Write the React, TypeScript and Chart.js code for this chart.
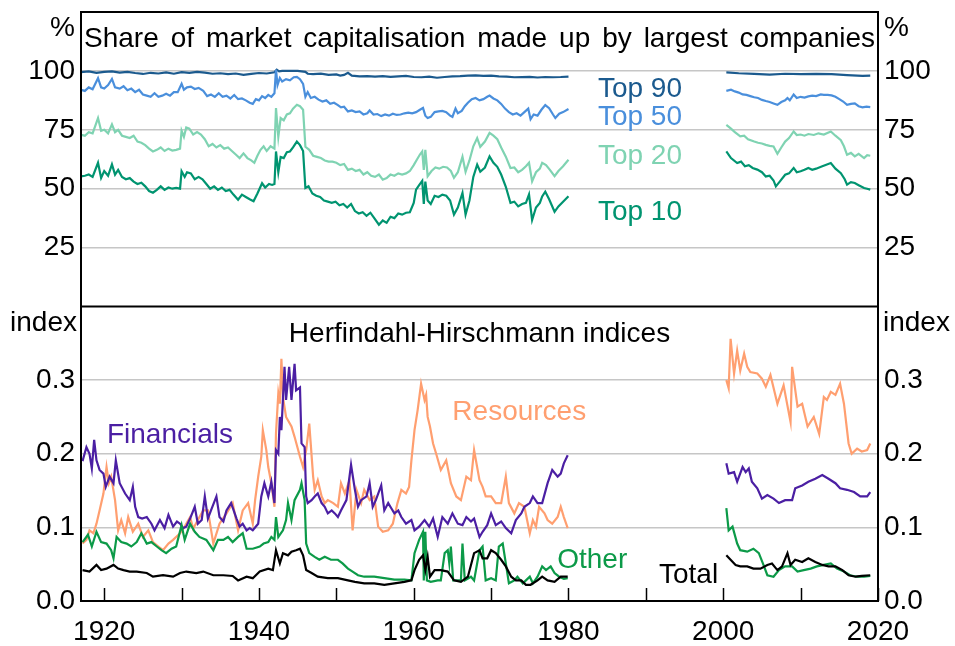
import React, { useEffect, useRef } from 'react';
import { Chart, registerables } from 'chart.js';

Chart.register(...registerables);

const FONT = '"Liberation Sans", Arial, sans-serif';
const FONT_SIZE = 28;

const X_MIN = 1917;
const X_MAX = 2020;
const GAP_YEAR = 1990;
const xTickYears = [1920, 1930, 1940, 1950, 1960, 1970, 1980, 1990, 2000, 2010, 2020];
const xLabelYears = [1920, 1940, 1960, 1980, 2000, 2020];
const shareTicks = [25, 50, 75, 100];
const hhiTicks = [0, 0.1, 0.2, 0.3];

const COLORS = {
  top90: '#1b5a8e',
  top50: '#4a8fdc',
  top20: '#7fd3b2',
  top10: '#009470',
  financials: '#4b1fa3',
  resources: '#ff9f70',
  other: '#0c9a48',
  total: '#000000',
  grid: '#c6c6c6',
};

// ---------- Top panel: share of market capitalisation (%) ----------
const top90Early = [
  [1917, 99.5], [1918, 99.8], [1919, 99.2], [1920, 99.6], [1921, 99.8], [1922, 99.3], [1923, 99.6], [1924, 99.1],
  [1925, 98.7], [1926, 99.2], [1927, 98.9], [1928, 99.4], [1929, 98.8], [1930, 99.5], [1931, 99.2], [1932, 99.6],
  [1933, 99.3], [1934, 98.8], [1935, 99.0], [1936, 98.6], [1937, 98.9], [1938, 98.3], [1939, 98.7], [1940, 99.1],
  [1941, 98.9], [1942, 99.4], [1942.3, 100.5], [1942.6, 99.8], [1943, 100], [1944, 100], [1945, 100], [1946, 99.6],
  [1946.3, 98.8], [1947, 98.6], [1948, 98.8], [1949, 98.3], [1950, 98.5], [1950.5, 98.0], [1951, 98.3], [1951.5, 99.2],
  [1952, 98.0], [1953, 97.7], [1954, 97.8], [1955, 97.6], [1956, 97.8], [1957, 97.5], [1958, 97.7], [1959, 97.9],
  [1960, 97.4], [1961, 97.3], [1962, 97.6], [1963, 97.1], [1964, 97.4], [1965, 97.7], [1966, 97.8], [1967, 98.0],
  [1968, 98.1], [1969, 97.9], [1970, 98.0], [1971, 97.7], [1972, 97.6], [1973, 97.3], [1974, 97.4], [1975, 97.5],
  [1976, 97.2], [1977, 97.4], [1978, 97.3], [1979, 97.4], [1980, 97.6],
];
const top90Late = [
  [2000.4, 99.4], [2002, 99.0], [2004, 98.7], [2006, 98.4], [2008, 98.8], [2010, 98.6], [2012, 98.7], [2014, 98.6],
  [2016, 98.2], [2018, 97.9], [2019, 98.0],
];

const top50Early = [
  [1917, 92], [1917.5, 91.5], [1918, 93], [1918.5, 92.2], [1919.2, 96.9], [1919.6, 93], [1920, 92.5], [1920.5, 94],
  [1921, 96.6], [1921.4, 93], [1922, 92.5], [1922.5, 93.5], [1923, 91.8], [1923.5, 92.5], [1924, 91], [1924.5, 92],
  [1925, 90], [1925.5, 89.5], [1926, 89], [1926.5, 90.5], [1927, 89], [1927.5, 89.5], [1928, 90.3], [1928.5, 89.5],
  [1929, 91], [1929.5, 91], [1930, 94.5], [1930.3, 92], [1930.7, 93], [1931.2, 93.3], [1931.7, 92.3], [1932.2, 92.8],
  [1932.8, 91.5], [1933.3, 89.3], [1933.8, 90], [1934.3, 89], [1934.8, 90.5], [1935.3, 89], [1935.8, 89.5],
  [1936.3, 88.3], [1936.8, 89.8], [1937.3, 88], [1937.8, 88.3], [1938.3, 87.5], [1938.8, 86.5], [1939.2, 86],
  [1939.6, 88], [1940, 87.5], [1940.4, 89.3], [1940.8, 88.5], [1941.2, 89.8], [1941.6, 89], [1942, 90.5],
  [1942.2, 100.5], [1942.4, 94], [1942.7, 97], [1943, 95.5], [1943.5, 96.5], [1944, 96], [1944.5, 97.3],
  [1944.9, 97.5], [1945.3, 96.5], [1945.7, 94.5], [1946, 89], [1946.3, 91], [1946.7, 88.5], [1947.2, 89],
  [1947.7, 87.8], [1948.2, 87], [1948.7, 87.5], [1949.2, 86], [1949.7, 86.5], [1950.2, 85.5], [1950.6, 84.5],
  [1951, 84.8], [1951.5, 82.8], [1952, 83.2], [1952.5, 82.5], [1953, 82.8], [1953.5, 81.5], [1954, 82],
  [1954.3, 83.2], [1954.8, 81.5], [1955.3, 81.7], [1955.8, 80.8], [1956.3, 81.5], [1956.8, 81], [1957.3, 81.8],
  [1957.8, 81.3], [1958.3, 81.5], [1958.8, 82], [1959.3, 82.3], [1959.8, 82], [1960.3, 82.5], [1960.8, 83.5],
  [1961.2, 84.3], [1961.5, 81], [1961.8, 80], [1962.2, 80.5], [1962.7, 82.5], [1963.2, 82.8], [1963.7, 83],
  [1964.2, 82.5], [1964.7, 81], [1965, 80.5], [1965.4, 84], [1965.7, 82], [1966.2, 83], [1966.6, 85], [1967, 86.5],
  [1967.5, 88], [1968, 88.5], [1968.5, 87.5], [1969, 88], [1969.5, 89], [1969.8, 89.5], [1970.3, 88.3],
  [1970.8, 87.5], [1971.3, 86], [1971.8, 84], [1972.3, 82.5], [1972.8, 81.5], [1973.3, 82], [1973.8, 81],
  [1974.3, 82.5], [1974.8, 84], [1975.1, 79.5], [1975.5, 81.5], [1976, 81], [1976.5, 83.5], [1977, 85.5],
  [1977.5, 84.2], [1978, 81.5], [1978.3, 80], [1978.8, 81.8], [1979.3, 82.5], [1980, 83.8],
];
const top50Late = [
  [2000.4, 91.5], [2001, 92], [2001.5, 91.3], [2002, 90.8], [2002.5, 90], [2003, 89.8], [2003.5, 89.3], [2004, 88.8],
  [2004.5, 88.5], [2005, 87.7], [2005.5, 87.2], [2006, 86.8], [2006.5, 86.2], [2007, 85.6], [2007.5, 86.8],
  [2008, 87.5], [2008.3, 88.5], [2008.6, 87.5], [2009.1, 90], [2009.5, 88.5], [2010, 89], [2010.5, 88.7],
  [2011, 89.2], [2011.5, 89.5], [2012, 89.3], [2012.6, 90], [2013, 89.8], [2013.5, 89.8], [2014, 89.6],
  [2014.5, 89], [2015, 88], [2015.5, 87], [2016, 85.6], [2016.5, 86], [2017, 86.2], [2017.5, 85], [2018, 84.5],
  [2018.5, 84.8], [2019, 84.6],
];

const top20Early = [
  [1917, 72.9], [1917.5, 72.5], [1918, 74], [1918.5, 73.5], [1919.2, 80], [1919.6, 74.6], [1920, 75], [1920.5, 73.5],
  [1921, 77.3], [1921.4, 74], [1921.8, 75], [1922.3, 72.5], [1922.8, 72], [1923.3, 71.5], [1923.8, 72.5],
  [1924.3, 70], [1924.8, 69.5], [1925.3, 68.5], [1925.8, 67], [1926.3, 65.8], [1926.8, 66.5], [1927.3, 67.5],
  [1927.8, 66], [1928.3, 67], [1928.8, 66.2], [1929.3, 66.5], [1929.8, 67], [1930, 74.6], [1930.3, 72],
  [1930.6, 76], [1931, 75.5], [1931.5, 73], [1932, 74], [1932.5, 73], [1933, 71], [1933.5, 68], [1934, 69],
  [1934.5, 67.5], [1935, 68.5], [1935.5, 67], [1936, 67.5], [1936.5, 66], [1937, 64.5], [1937.5, 63], [1938, 65],
  [1938.5, 63], [1939, 62], [1939.4, 61], [1939.8, 64], [1940.2, 66.5], [1940.6, 68], [1941, 66], [1941.5, 68],
  [1942, 67], [1942.2, 84.2], [1942.5, 72], [1942.8, 80], [1943.2, 79], [1943.6, 81.5], [1944, 82], [1944.4, 84],
  [1944.9, 85.6], [1945.3, 85], [1945.7, 83.5], [1946, 67.8], [1946.5, 66.5], [1947, 64], [1947.5, 63.5],
  [1948, 63], [1948.5, 62], [1949, 61.5], [1949.5, 61.5], [1950, 61], [1950.5, 60], [1951, 60.5], [1951.5, 58],
  [1952, 58.5], [1952.5, 57.5], [1953, 58], [1953.5, 56], [1954, 57], [1954.5, 55.5], [1955, 55], [1955.5, 56],
  [1956, 53.8], [1956.5, 54.5], [1957, 56], [1957.5, 55.5], [1958, 56.5], [1958.5, 56], [1959, 56.5],
  [1959.5, 57.5], [1960, 60], [1960.4, 62.3], [1960.8, 64.5], [1961.1, 65.8], [1961.3, 58], [1961.5, 66.5],
  [1961.8, 55.3], [1962.3, 57.5], [1962.8, 59], [1963.3, 58.5], [1963.8, 59.3], [1964.3, 59], [1964.8, 57.5],
  [1965.2, 54.6], [1965.7, 57], [1966.3, 63.6], [1966.7, 57.2], [1967.2, 62], [1967.7, 68], [1968.2, 71.5],
  [1968.6, 67.8], [1969.2, 70], [1969.8, 73.7], [1970.3, 72.5], [1970.8, 71], [1971.3, 67.5], [1971.9, 63.6],
  [1972.5, 58.8], [1973, 59], [1973.5, 57], [1974, 58], [1974.5, 59.5], [1974.9, 61], [1975.3, 53.1],
  [1975.8, 57], [1976.3, 58.5], [1976.6, 61], [1977.1, 60], [1977.6, 58], [1978.2, 55.3], [1978.7, 57.5],
  [1979.3, 59.5], [1980, 62.3],
];
const top20Late = [
  [2000.4, 77.1], [2001, 75.5], [2001.5, 74], [2002.2, 72.2], [2002.7, 72.5], [2003.2, 71], [2004, 70],
  [2004.5, 69.5], [2005, 69.2], [2005.5, 68.6], [2006, 68.2], [2006.5, 67.9], [2007, 64.8], [2007.5, 67.5],
  [2008, 70], [2008.5, 71.5], [2009.1, 74.3], [2009.5, 72.8], [2010, 73], [2010.5, 72.5], [2011, 73.2],
  [2011.7, 72.8], [2012.3, 73.5], [2013, 73], [2013.9, 74.3], [2014.5, 72.5], [2015.2, 70.6], [2015.6, 68],
  [2016, 64.4], [2016.5, 65.2], [2017, 63.7], [2017.5, 64.8], [2018.2, 63], [2018.6, 64.2], [2019, 64],
];

const top10Early = [
  [1917, 55.2], [1917.5, 55.5], [1918, 56], [1918.5, 55], [1919.2, 61], [1919.6, 54.6], [1920, 57.5], [1920.5, 55.5],
  [1921, 60.3], [1921.4, 56], [1921.8, 58], [1922.3, 55], [1922.8, 54], [1923.3, 54.5], [1923.8, 53], [1924.3, 52],
  [1924.8, 52.5], [1925.3, 51], [1925.8, 49], [1926.3, 48.3], [1926.8, 49.5], [1927.3, 51], [1927.8, 49.5],
  [1928.3, 50.5], [1928.8, 50], [1929.3, 50.3], [1929.8, 50], [1930, 57.4], [1930.4, 55], [1930.7, 57],
  [1931.2, 56.5], [1931.7, 54], [1932.2, 55], [1932.7, 54], [1933.2, 52], [1933.7, 50], [1934.2, 51],
  [1934.7, 49.5], [1935.2, 50.5], [1935.7, 49], [1936.2, 49.5], [1936.7, 47.5], [1937.3, 45.3], [1937.8, 47.5],
  [1938.3, 46.5], [1938.8, 45.5], [1939.3, 44.7], [1939.8, 48], [1940.4, 52.3], [1940.8, 50.5], [1941.3, 52],
  [1941.7, 51.6], [1942, 52], [1942.2, 65.8], [1942.5, 57], [1942.8, 63.5], [1943.2, 63], [1943.6, 65.5],
  [1944, 65.8], [1944.4, 67.5], [1944.9, 70], [1945.3, 68.5], [1945.7, 66], [1946, 50.3], [1946.4, 51],
  [1946.9, 48], [1947.4, 47], [1947.9, 46.5], [1948.4, 45], [1948.9, 44.5], [1949.4, 44], [1949.9, 44.5],
  [1950.4, 43], [1950.9, 43.5], [1951.4, 42], [1951.9, 43.5], [1952.4, 40.5], [1952.9, 39.5], [1953.4, 40],
  [1953.9, 38.5], [1954.4, 39.8], [1954.9, 37.5], [1955.5, 34.7], [1956, 36.5], [1956.5, 35.5], [1957, 38.1],
  [1957.5, 37.5], [1958, 39.5], [1958.5, 39], [1959, 39.8], [1959.5, 40], [1960, 44], [1960.3, 49.6],
  [1960.7, 51.5], [1961.1, 53.3], [1961.3, 43.5], [1961.5, 53], [1961.8, 45], [1962.2, 43.5], [1962.7, 47],
  [1963.2, 46.5], [1963.7, 47.5], [1964.2, 47], [1964.7, 45], [1965.2, 39], [1965.7, 42], [1966.3, 48.2],
  [1966.7, 39], [1967.2, 45], [1967.7, 55], [1968.2, 60.2], [1968.6, 57.2], [1969.2, 59], [1969.8, 63.7],
  [1970.3, 61], [1970.8, 59.3], [1971.3, 56], [1971.9, 50.8], [1972.5, 44], [1973, 44.5], [1973.5, 42.5],
  [1974, 43.5], [1974.5, 44], [1974.9, 47.6], [1975.3, 36.7], [1975.8, 42], [1976.3, 44], [1976.6, 46.7],
  [1977, 48.7], [1977.5, 45.5], [1978.2, 40.2], [1978.7, 42.5], [1979.3, 44.5], [1980, 46.8],
];
const top10Late = [
  [2000.4, 65.8], [2001, 63], [2001.8, 60.9], [2002.3, 61.5], [2002.8, 59.5], [2003.3, 60], [2003.8, 58.8],
  [2004.4, 58.1], [2005, 57], [2005.5, 55.2], [2006, 55.5], [2006.5, 53.5], [2006.8, 51], [2007.3, 53],
  [2008, 55.9], [2008.5, 56.5], [2009.1, 58.8], [2009.5, 57], [2010, 57.4], [2010.5, 58], [2011, 58.8],
  [2011.5, 58], [2012, 58.5], [2012.8, 59.5], [2013.4, 60.3], [2013.9, 60.9], [2014.5, 58.5], [2015.2, 56.6],
  [2015.7, 54], [2016, 51.7], [2016.5, 52.8], [2017, 52.4], [2017.5, 51.5], [2018.2, 50.3], [2018.6, 50],
  [2019, 49.6],
];

// ---------- Bottom panel: Herfindahl-Hirschmann indices ----------
const financialsEarly = [
  [1917.2, 0.19], [1917.3, 0.194], [1917.7, 0.209], [1918.1, 0.2], [1918.4, 0.18], [1918.7, 0.219], [1919.0, 0.191],
  [1919.4, 0.178], [1919.9, 0.173], [1920.2, 0.155], [1920.7, 0.169], [1921.2, 0.16], [1921.5, 0.191],
  [1922.0, 0.16], [1922.7, 0.146], [1923.3, 0.137], [1923.7, 0.155], [1924.0, 0.128], [1924.4, 0.114],
  [1924.9, 0.112], [1925.5, 0.114], [1926.1, 0.105], [1926.5, 0.096], [1927.2, 0.11], [1927.8, 0.099],
  [1928.3, 0.117], [1928.9, 0.101], [1929.4, 0.108], [1929.8, 0.105], [1930.2, 0.099], [1930.6, 0.101],
  [1931.1, 0.112], [1931.7, 0.128], [1932.1, 0.105], [1932.6, 0.11], [1933.0, 0.142], [1933.4, 0.112],
  [1933.8, 0.123], [1934.5, 0.142], [1934.9, 0.114], [1935.4, 0.108], [1935.8, 0.123], [1936.4, 0.133],
  [1937.1, 0.112], [1937.5, 0.101], [1937.9, 0.105], [1938.4, 0.096], [1938.8, 0.099], [1939.2, 0.096],
  [1939.9, 0.105], [1940.3, 0.142], [1940.7, 0.16], [1941.2, 0.142], [1941.6, 0.162], [1942.0, 0.133],
  [1942.2, 0.205], [1942.5, 0.2], [1942.7, 0.25], [1942.9, 0.232], [1943.3, 0.318], [1943.5, 0.273],
  [1943.9, 0.318], [1944.2, 0.273], [1944.6, 0.322], [1944.8, 0.286], [1945.3, 0.29], [1945.5, 0.214],
  [1945.9, 0.209], [1946.1, 0.142], [1946.3, 0.133], [1946.8, 0.137], [1947.2, 0.142], [1947.6, 0.146],
  [1948.1, 0.133], [1948.5, 0.128], [1948.9, 0.119], [1949.4, 0.123], [1949.8, 0.119], [1950.2, 0.114],
  [1950.6, 0.123], [1951.3, 0.137], [1951.9, 0.185], [1952.4, 0.151], [1952.8, 0.128], [1953.2, 0.137],
  [1953.9, 0.142], [1954.3, 0.16], [1954.7, 0.128], [1955.1, 0.137], [1955.8, 0.157], [1956.2, 0.123],
  [1956.7, 0.133], [1957.1, 0.126], [1957.5, 0.119], [1958.0, 0.123], [1958.4, 0.114], [1959.0, 0.105],
  [1959.7, 0.11], [1960.1, 0.096], [1960.7, 0.101], [1961.4, 0.11], [1962.0, 0.101], [1962.5, 0.112],
  [1963.1, 0.087], [1963.7, 0.114], [1964.4, 0.105], [1965.0, 0.119], [1965.7, 0.105], [1966.3, 0.103],
  [1966.8, 0.114], [1967.4, 0.108], [1967.8, 0.112], [1968.5, 0.087], [1968.9, 0.094], [1969.5, 0.103],
  [1970.0, 0.119], [1970.6, 0.103], [1971.3, 0.108], [1971.9, 0.099], [1972.6, 0.092], [1973.2, 0.11],
  [1973.9, 0.119], [1974.3, 0.128], [1975.0, 0.133], [1975.4, 0.142], [1976.0, 0.133], [1976.6, 0.133],
  [1977.3, 0.16], [1977.9, 0.178], [1978.6, 0.169], [1979.0, 0.173], [1979.4, 0.187], [1979.9, 0.198],
];
const financialsLate = [
  [2000.4, 0.187], [2000.7, 0.173], [2001.4, 0.175], [2001.8, 0.162], [2002.5, 0.182], [2002.9, 0.175],
  [2003.3, 0.18], [2003.7, 0.162], [2004.4, 0.153], [2005.0, 0.139], [2005.7, 0.144], [2006.5, 0.139],
  [2007.2, 0.133], [2008.0, 0.137], [2008.9, 0.137], [2009.3, 0.153], [2010.2, 0.157], [2011.0, 0.162],
  [2011.9, 0.166], [2012.8, 0.171], [2013.6, 0.166], [2014.5, 0.16], [2015.1, 0.153], [2016.0, 0.151],
  [2016.9, 0.148], [2017.7, 0.142], [2018.6, 0.142], [2019.0, 0.148],
];

const resourcesEarly = [
  [1917.2, 0.078], [1917.7, 0.083], [1918.1, 0.096], [1918.6, 0.092], [1919.0, 0.105], [1919.4, 0.123],
  [1919.9, 0.146], [1920.3, 0.182], [1920.6, 0.16], [1920.9, 0.169], [1921.4, 0.137], [1921.8, 0.096],
  [1922.2, 0.11], [1922.7, 0.092], [1923.1, 0.114], [1923.7, 0.094], [1924.4, 0.105], [1925.0, 0.087],
  [1925.7, 0.096], [1926.3, 0.08], [1927.0, 0.074], [1927.6, 0.069], [1928.3, 0.078], [1928.9, 0.083],
  [1929.8, 0.092], [1930.4, 0.101], [1931.1, 0.114], [1931.5, 0.098], [1932.1, 0.11], [1932.8, 0.123],
  [1933.4, 0.123], [1934.1, 0.078], [1934.9, 0.105], [1935.8, 0.119], [1936.6, 0.133], [1937.3, 0.096],
  [1937.9, 0.123], [1938.6, 0.133], [1939.2, 0.105], [1939.5, 0.137], [1939.9, 0.169], [1940.3, 0.196],
  [1940.5, 0.232], [1940.95, 0.205], [1941.2, 0.182], [1941.6, 0.16], [1942.0, 0.128], [1942.2, 0.228],
  [1942.5, 0.282], [1942.7, 0.268], [1942.9, 0.329], [1943.1, 0.277], [1943.5, 0.25], [1944.2, 0.237],
  [1944.6, 0.223], [1945.3, 0.196], [1945.7, 0.182], [1946.1, 0.205], [1946.5, 0.241], [1947.0, 0.169],
  [1947.2, 0.151], [1947.6, 0.164], [1948.1, 0.142], [1948.5, 0.133], [1948.9, 0.137], [1949.6, 0.133],
  [1950.2, 0.128], [1950.6, 0.16], [1951.1, 0.146], [1951.7, 0.164], [1952.1, 0.096], [1952.6, 0.151],
  [1953.2, 0.133], [1953.6, 0.151], [1954.3, 0.137], [1954.9, 0.142], [1955.4, 0.101], [1956.0, 0.094],
  [1956.7, 0.096], [1957.3, 0.105], [1957.9, 0.133], [1958.4, 0.151], [1959.0, 0.146], [1959.4, 0.155],
  [1959.7, 0.191], [1960.1, 0.232], [1960.5, 0.259], [1960.95, 0.295], [1961.4, 0.273], [1961.6, 0.28],
  [1961.8, 0.25], [1962.1, 0.237], [1962.5, 0.214], [1962.9, 0.2], [1963.5, 0.178], [1964.2, 0.191],
  [1964.8, 0.16], [1965.5, 0.142], [1966.1, 0.137], [1966.8, 0.169], [1967.4, 0.164], [1967.8, 0.205],
  [1968.5, 0.164], [1968.9, 0.155], [1969.3, 0.142], [1970.0, 0.142], [1970.6, 0.133], [1971.3, 0.133],
  [1971.9, 0.169], [1972.3, 0.133], [1973.0, 0.119], [1973.6, 0.133], [1974.3, 0.128], [1975.0, 0.092],
  [1975.4, 0.11], [1975.8, 0.101], [1976.2, 0.128], [1976.9, 0.119], [1977.3, 0.11], [1977.9, 0.105],
  [1978.6, 0.114], [1979.0, 0.128], [1979.4, 0.114], [1979.9, 0.099],
];
const resourcesLate = [
  [2000.4, 0.3], [2000.7, 0.289], [2000.95, 0.356], [2001.4, 0.309], [2001.8, 0.34], [2002.2, 0.313],
  [2002.7, 0.336], [2003.1, 0.318], [2003.5, 0.311], [2004.4, 0.309], [2005.0, 0.302], [2005.5, 0.291],
  [2006.1, 0.307], [2007.0, 0.268], [2007.8, 0.293], [2008.7, 0.243], [2008.9, 0.318], [2009.6, 0.264],
  [2010.2, 0.268], [2010.9, 0.237], [2011.7, 0.25], [2012.4, 0.227], [2013.0, 0.277], [2013.4, 0.273],
  [2013.9, 0.284], [2014.5, 0.28], [2015.1, 0.295], [2015.6, 0.268], [2016.2, 0.214], [2016.6, 0.2],
  [2017.3, 0.207], [2017.9, 0.203], [2018.6, 0.205], [2019.0, 0.214],
];

const otherEarly = [
  [1917.2, 0.08], [1917.9, 0.09], [1918.4, 0.074], [1919.0, 0.094], [1919.6, 0.08], [1920.3, 0.078],
  [1920.9, 0.069], [1921.2, 0.058], [1921.6, 0.087], [1922.2, 0.08], [1922.9, 0.078], [1923.5, 0.074],
  [1924.2, 0.08], [1924.8, 0.092], [1925.5, 0.078], [1926.1, 0.08], [1926.8, 0.074], [1927.4, 0.069],
  [1928.0, 0.065], [1928.7, 0.071], [1929.3, 0.074], [1930.0, 0.103], [1930.4, 0.083], [1931.1, 0.105],
  [1931.7, 0.094], [1932.3, 0.087], [1933.2, 0.083], [1934.1, 0.069], [1934.7, 0.083], [1935.4, 0.083],
  [1936.0, 0.087], [1936.6, 0.08], [1937.3, 0.087], [1937.9, 0.092], [1938.4, 0.071], [1939.2, 0.071],
  [1940.1, 0.074], [1940.6, 0.078], [1941.2, 0.08], [1941.6, 0.087], [1942.0, 0.083], [1942.2, 0.114],
  [1942.5, 0.087], [1943.1, 0.096], [1943.5, 0.11], [1943.75, 0.133], [1944.2, 0.11], [1944.6, 0.137],
  [1945.3, 0.151], [1945.5, 0.16], [1945.9, 0.137], [1946.1, 0.078], [1946.5, 0.065], [1947.2, 0.06],
  [1947.8, 0.056], [1948.5, 0.06], [1949.3, 0.056], [1950.2, 0.056], [1950.8, 0.051], [1951.5, 0.044],
  [1952.1, 0.04], [1952.8, 0.035], [1953.6, 0.033], [1954.9, 0.033], [1956.2, 0.031], [1957.5, 0.029],
  [1958.8, 0.029], [1959.7, 0.028], [1960.1, 0.065], [1960.7, 0.083], [1961.2, 0.094], [1961.3, 0.028],
  [1961.5, 0.094], [1961.7, 0.028], [1962.2, 0.026], [1963.1, 0.028], [1963.5, 0.028], [1964.0, 0.065],
  [1964.4, 0.069], [1964.6, 0.051], [1964.8, 0.074], [1965.1, 0.028], [1966.1, 0.028], [1966.3, 0.078],
  [1966.6, 0.028], [1967.4, 0.033], [1967.8, 0.028], [1968.5, 0.069], [1968.9, 0.074], [1969.3, 0.028],
  [1970.0, 0.031], [1970.6, 0.028], [1971.0, 0.074], [1971.5, 0.078], [1971.9, 0.051], [1972.3, 0.024],
  [1973.0, 0.028], [1973.4, 0.033], [1974.1, 0.024], [1974.5, 0.028], [1975.0, 0.033], [1975.4, 0.024],
  [1976.0, 0.033], [1976.6, 0.047], [1977.1, 0.042], [1977.7, 0.047], [1978.2, 0.038], [1978.8, 0.033],
  [1979.4, 0.03], [1979.9, 0.031],
];
const otherLate = [
  [2000.4, 0.126], [2000.7, 0.096], [2001.2, 0.101], [2001.8, 0.078], [2002.2, 0.069], [2003.1, 0.067],
  [2003.9, 0.071], [2004.6, 0.065], [2005.2, 0.049], [2005.7, 0.035], [2006.5, 0.033], [2007.2, 0.042],
  [2008.0, 0.047], [2008.9, 0.047], [2009.6, 0.04], [2010.4, 0.042], [2011.3, 0.044], [2012.1, 0.047],
  [2013.0, 0.049], [2013.9, 0.051], [2014.7, 0.044], [2015.6, 0.04], [2016.4, 0.035], [2017.3, 0.033],
  [2018.2, 0.033], [2019.0, 0.034],
];

const totalEarly = [
  [1917.2, 0.042], [1918.1, 0.04], [1919.0, 0.049], [1919.6, 0.042], [1920.3, 0.044], [1921.2, 0.049],
  [1921.8, 0.044], [1922.5, 0.042], [1923.3, 0.04], [1924.2, 0.04], [1925.5, 0.038], [1926.3, 0.033],
  [1927.6, 0.035], [1928.9, 0.033], [1929.8, 0.038], [1930.6, 0.04], [1931.9, 0.038], [1932.8, 0.04],
  [1934.1, 0.035], [1935.4, 0.035], [1936.6, 0.034], [1937.3, 0.028], [1938.4, 0.033], [1939.2, 0.031],
  [1940.1, 0.04], [1941.2, 0.044], [1941.8, 0.042], [1942.2, 0.069], [1942.7, 0.051], [1943.1, 0.065],
  [1943.75, 0.062], [1944.2, 0.067], [1944.8, 0.069], [1945.3, 0.071], [1945.7, 0.062], [1946.1, 0.042],
  [1946.8, 0.038], [1947.6, 0.033], [1948.9, 0.031], [1950.2, 0.031], [1951.5, 0.028], [1952.4, 0.026],
  [1953.6, 0.024], [1954.9, 0.024], [1956.2, 0.022], [1957.5, 0.024], [1958.8, 0.026], [1959.7, 0.028],
  [1960.1, 0.042], [1960.7, 0.056], [1961.2, 0.062], [1961.5, 0.042], [1961.8, 0.06], [1962.1, 0.033],
  [1962.7, 0.042], [1963.5, 0.042], [1964.4, 0.04], [1965.2, 0.028], [1966.1, 0.026], [1967.0, 0.033],
  [1967.8, 0.065], [1968.5, 0.069], [1968.9, 0.058], [1969.5, 0.058], [1970.0, 0.069], [1970.6, 0.065],
  [1971.3, 0.056], [1971.9, 0.047], [1972.6, 0.033], [1973.2, 0.028], [1973.9, 0.028], [1974.5, 0.022],
  [1975.1, 0.022], [1976.0, 0.028], [1976.6, 0.033], [1977.3, 0.028], [1978.2, 0.026], [1979.0, 0.033],
  [1979.9, 0.033],
];
const totalLate = [
  [2000.4, 0.062], [2000.95, 0.056], [2001.6, 0.049], [2002.2, 0.047], [2003.1, 0.047], [2003.9, 0.044],
  [2004.8, 0.044], [2005.7, 0.049], [2006.3, 0.051], [2007.0, 0.042], [2007.6, 0.047], [2008.3, 0.065],
  [2008.7, 0.049], [2009.3, 0.056], [2010.2, 0.053], [2011.0, 0.058], [2011.9, 0.053], [2012.8, 0.049],
  [2013.6, 0.047], [2014.5, 0.047], [2015.4, 0.042], [2016.2, 0.035], [2017.1, 0.033], [2017.9, 0.034],
  [2019.0, 0.035],
];

// Series labels, anchored in data units (x = year, y = value at text baseline)
const seriesLabels = [
  { text: 'Top 90', color: COLORS.top90, year: 1983.8, value: 89.1, axis: 'yTop' },
  { text: 'Top 50', color: COLORS.top50, year: 1983.8, value: 77.1, axis: 'yTop' },
  { text: 'Top 20', color: COLORS.top20, year: 1983.8, value: 60.6, axis: 'yTop' },
  { text: 'Top 10', color: COLORS.top10, year: 1983.8, value: 36.9, axis: 'yTop' },
  { text: 'Financials', color: COLORS.financials, year: 1920.35, value: 0.2148, axis: 'yBot' },
  { text: 'Resources', color: COLORS.resources, year: 1964.99, value: 0.2456, axis: 'yBot' },
  { text: 'Other', color: COLORS.other, year: 1978.54, value: 0.0452, axis: 'yBot' },
  { text: 'Total', color: COLORS.total, year: 1991.7, value: 0.0249, axis: 'yBot' },
];

const TOP_TITLE = 'Share of market capitalisation made up by largest companies';
const BOTTOM_TITLE = 'Herfindahl-Hirschmann indices';
const TOP_UNIT = '%';
const BOTTOM_UNIT = 'index';

function toPoints(early: number[][], late: number[][]) {
  return [
    ...early.map(([x, y]) => ({ x, y })),
    { x: GAP_YEAR, y: null as any },
    ...late.map(([x, y]) => ({ x, y })),
  ];
}

function lineDataset(label: string, early: number[][], late: number[][], color: string, yAxisID: string) {
  return {
    label,
    data: toPoints(early, late),
    borderColor: color,
    backgroundColor: color,
    borderWidth: 2.2,
    pointRadius: 0,
    tension: 0,
    spanGaps: false,
    yAxisID,
    xAxisID: 'x',
  };
}

const tickFont = { family: FONT, size: FONT_SIZE };

const overlayPlugin = {
  id: 'overlay',
  afterDatasetsDraw(chart: any) {
    const { ctx, chartArea: ca, scales } = chart;
    const xs = scales.x;
    const yB = scales.yBot;
    ctx.save();
    // inner tick marks on the bottom axis
    ctx.strokeStyle = '#000';
    ctx.lineWidth = 1.5;
    xTickYears.forEach((yr) => {
      const px = Math.round(xs.getPixelForValue(yr)) + 0.5;
      ctx.beginPath();
      ctx.moveTo(px, ca.bottom);
      ctx.lineTo(px, ca.bottom - 13);
      ctx.stroke();
    });
    // frame and panel divider
    ctx.lineWidth = 2;
    ctx.strokeRect(ca.left, ca.top, ca.right - ca.left, ca.bottom - ca.top);
    ctx.beginPath();
    ctx.moveTo(ca.left, yB.top);
    ctx.lineTo(ca.right, yB.top);
    ctx.stroke();

    ctx.font = `${FONT_SIZE}px ${FONT}`;
    ctx.textBaseline = 'alphabetic';
    ctx.fillStyle = '#000';
    const cx = (ca.left + ca.right) / 2;

    // panel titles
    ctx.textAlign = 'center';
    const natural = ctx.measureText(TOP_TITLE).width;
    const spaces = TOP_TITLE.split(' ').length - 1;
    const target = ca.right - ca.left - 6;
    if ('wordSpacing' in ctx && natural < target) {
      (ctx as any).wordSpacing = `${(target - natural) / spaces}px`;
    }
    ctx.fillText(TOP_TITLE, cx, ca.top + 35);
    if ('wordSpacing' in ctx) (ctx as any).wordSpacing = '0px';
    ctx.fillText(BOTTOM_TITLE, cx, yB.top + 35);

    // unit labels
    ctx.textAlign = 'right';
    ctx.fillText(TOP_UNIT, ca.left - 6, ca.top + 24);
    ctx.fillText(BOTTOM_UNIT, ca.left - 4, yB.top + 24);
    ctx.textAlign = 'left';
    ctx.fillText(TOP_UNIT, ca.right + 6, ca.top + 24);
    ctx.fillText(BOTTOM_UNIT, ca.right + 5, yB.top + 24);

    // series labels
    seriesLabels.forEach((l) => {
      const ys = scales[l.axis];
      ctx.fillStyle = l.color;
      ctx.fillText(l.text, xs.getPixelForValue(l.year), ys.getPixelForValue(l.value));
    });
    ctx.restore();
  },
};

export default function App() {
  const ref = useRef<HTMLCanvasElement>(null);
  useEffect(() => {
    const canvas = ref.current;
    if (!canvas) return;
    const yCommon = (min: number, max: number, ticks: number[], position: string, stack: string, showGrid: boolean, fmt: (v: number) => string, width: number) => ({
      type: 'linear',
      position,
      stack,
      stackWeight: 1,
      min,
      max,
      border: { display: false },
      grid: { display: showGrid, color: COLORS.grid, lineWidth: 1.5, drawTicks: false },
      ticks: { font: tickFont, color: '#000', padding: 6, callback: (v: number) => fmt(v) },
      afterBuildTicks: (axis: any) => { axis.ticks = ticks.map((v) => ({ value: v })); },
      afterFit: (axis: any) => {
        axis.width = width;
        axis.paddingTop = 0;
        axis.paddingBottom = 0;
      },
    });
    const chart = new Chart(canvas, {
      type: 'line',
      data: {
        datasets: [
          lineDataset('Total', totalEarly, totalLate, COLORS.total, 'yBot'),
          lineDataset('Other', otherEarly, otherLate, COLORS.other, 'yBot'),
          lineDataset('Financials', financialsEarly, financialsLate, COLORS.financials, 'yBot'),
          lineDataset('Resources', resourcesEarly, resourcesLate, COLORS.resources, 'yBot'),
          lineDataset('Top 10', top10Early, top10Late, COLORS.top10, 'yTop'),
          lineDataset('Top 20', top20Early, top20Late, COLORS.top20, 'yTop'),
          lineDataset('Top 50', top50Early, top50Late, COLORS.top50, 'yTop'),
          lineDataset('Top 90', top90Early, top90Late, COLORS.top90, 'yTop'),
        ] as any,
      },
      options: {
        responsive: false,
        maintainAspectRatio: false,
        devicePixelRatio: 1,
        animation: false,
        parsing: false as any,
        normalized: true,
        layout: { padding: { top: 12, left: 0, right: 0, bottom: 0 } },
        plugins: { legend: { display: false }, tooltip: { enabled: false } },
        scales: {
          x: {
            type: 'linear',
            position: 'bottom',
            min: X_MIN,
            max: X_MAX,
            border: { display: false },
            grid: { display: false, drawTicks: false },
            ticks: {
              font: tickFont,
              color: '#000',
              padding: 14,
              autoSkip: false,
              maxRotation: 0,
              callback: (v: number) => (xLabelYears.includes(v) ? String(v) : ''),
            },
            afterBuildTicks: (axis: any) => { axis.ticks = xTickYears.map((v) => ({ value: v })); },
            afterFit: (axis: any) => {
              axis.height = 45;
              axis.paddingLeft = 0;
              axis.paddingRight = 0;
            },
          },
          yBot: yCommon(0, 0.4, hhiTicks, 'left', 'L', true, (v) => v.toFixed(1), 81),
          yTop: yCommon(0, 125, shareTicks, 'left', 'L', true, (v) => String(v), 81),
          yTopR: yCommon(0, 125, shareTicks, 'right', 'R', false, (v) => String(v), 77),
          yBotR: yCommon(0, 0.4, hhiTicks, 'right', 'R', false, (v) => v.toFixed(1), 77),
        } as any,
      },
      plugins: [overlayPlugin],
    });
    return () => chart.destroy();
  }, []);
  return (
    <div style={{ position: 'absolute', left: 0, top: 0, width: 955, height: 646 }}>
      <canvas ref={ref} width={955} height={646} style={{ display: 'block', width: 955, height: 646 }} />
    </div>
  );
}
